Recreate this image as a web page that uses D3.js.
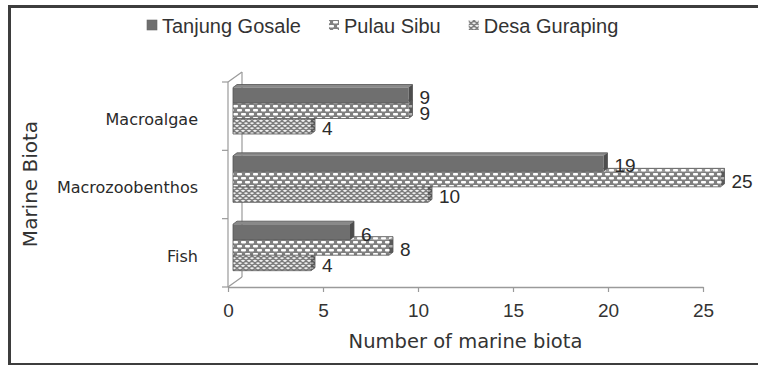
<!DOCTYPE html>
<html>
<head>
<meta charset="utf-8">
<script src="https://cdn.jsdelivr.net/npm/d3@7"></script>
<style>
  html, body { margin: 0; padding: 0; background: #fff; }
  svg { display: block; }
</style>
</head>
<body>
<svg id="chart" width="758" height="365"></svg>
<script>
// Marine biota counts per site
const categories = ["Macroalgae", "Macrozoobenthos", "Fish"];
const seriesNames = ["Tanjung Gosale", "Pulau Sibu", "Desa Guraping"];
const tanjungGosale = [9, 19, 6];
const pulauSibu = [9, 25, 8];
const desaGuraping = [4, 10, 4];
const xTicks = [0, 5, 10, 15, 20, 25];
const xTitle = "Number of marine biota";
const yTitle = "Marine Biota";

const seriesValues = [tanjungGosale, pulauSibu, desaGuraping];
const rows = [];
categories.forEach((c, ci) => {
  seriesNames.forEach((s, si) => rows.push({ category: c, series: s, si, value: seriesValues[si][ci] }));
});

const svg = d3.select("#chart");
const defs = svg.append("defs");

// Fill patterns for the two hatched series
const pSibu = defs.append("pattern").attr("id", "pat-sibu")
  .attr("patternUnits", "userSpaceOnUse").attr("width", 8).attr("height", 8);
pSibu.append("rect").attr("width", 8).attr("height", 8).attr("fill", "#808080");
[[1, 1], [5, 5], [-3, 5]].forEach(([x, y]) =>
  pSibu.append("rect").attr("x", x).attr("y", y).attr("width", 5).attr("height", 2.4)
    .attr("rx", 0.8).attr("fill", "#fff"));

const pGur = defs.append("pattern").attr("id", "pat-gur")
  .attr("patternUnits", "userSpaceOnUse").attr("width", 6).attr("height", 5);
pGur.append("rect").attr("width", 6).attr("height", 5).attr("fill", "#f2f2f2");
pGur.append("path").attr("d", "M-3,3 Q0,0 3,3 Q6,0 9,3 M0,5.5 Q3,2.5 6,5.5 M0,0.5 Q3,-2.5 6,0.5")
  .attr("fill", "none").attr("stroke", "#777").attr("stroke-width", 1.4);

const fills = {
  "Tanjung Gosale": "#6f6f6f",
  "Pulau Sibu": "url(#pat-sibu)",
  "Desa Guraping": "url(#pat-gur)"
};

// Frame
const frame = svg.append("g").attr("stroke", "#3d3d3d").attr("fill", "none");
frame.append("line").attr("x1", 8).attr("x2", 758).attr("y1", 6.5).attr("y2", 6.5).attr("stroke-width", 3);
frame.append("line").attr("x1", 9.5).attr("x2", 9.5).attr("y1", 5).attr("y2", 365).attr("stroke-width", 3);
frame.append("line").attr("x1", 8).attr("x2", 758).attr("y1", 364).attr("y2", 364).attr("stroke-width", 2);

// Scales: front axis plane and the bar plane (set slightly back in depth)
const xAxisScale = d3.scaleLinear().domain([0, 25]).range([228, 703]);
const xBar = d3.scaleLinear().domain([0, 25]).range([233, 720.5]);
const yBand = d3.scaleBand().domain(categories).range([82, 287]).paddingInner(0).paddingOuter(0);
const ySeries = d3.scaleBand().domain(seriesNames).range([5.5, 5.5 + 3 * 15.5]);
const depthX = 4, depthY = 3;
const wallX = 14, wallY = 10;

// Walls / depth lines
const axisColor = "#9a9a9a";
const wall = svg.append("g").attr("stroke", axisColor).attr("fill", "none").attr("stroke-width", 1.2);
const yTop = yBand.range()[0], yBot = yBand.range()[1], x0 = xAxisScale(0);
wall.append("line").attr("x1", x0 + wallX).attr("x2", x0 + wallX).attr("y1", yTop - wallY).attr("y2", yBot - wallY);
wall.append("line").attr("x1", x0).attr("x2", x0 + wallX).attr("y1", yTop).attr("y2", yTop - wallY);
wall.append("line").attr("x1", x0).attr("x2", x0 + wallX).attr("y1", yBot).attr("y2", yBot - wallY);
wall.append("line").attr("x1", x0).attr("x2", x0).attr("y1", yTop).attr("y2", yBot);
// Category boundary ticks
const boundaries = categories.map(c => yBand(c)).concat([yBot]);
wall.selectAll("line.tick").data(boundaries).join("line").attr("class", "tick")
  .attr("x1", x0 - 6).attr("x2", x0).attr("y1", d => d).attr("y2", d => d);

// Bars as oblique boxes
const barsG = svg.append("g");
const drawOrder = rows.slice().sort((a, b) => (categories.indexOf(a.category) - categories.indexOf(b.category)) || (b.si - a.si));
drawOrder.forEach(d => {
  const y = yBand(d.category) + ySeries(d.series);
  const h = ySeries.bandwidth();
  const xa = xBar(0), xb = xBar(d.value);
  const g = barsG.append("g");
  const fill = fills[d.series];
  const front = `M${xa},${y}H${xb}V${y + h}H${xa}Z`;
  const top = `M${xa},${y}L${xa + depthX},${y - depthY}H${xb + depthX}L${xb},${y}Z`;
  const side = `M${xb},${y}L${xb + depthX},${y - depthY}V${y + h - depthY}L${xb},${y + h}Z`;
  g.append("path").attr("d", top).attr("fill", fill);
  g.append("path").attr("d", top).attr("fill", "#fff").attr("opacity", 0.18);
  g.append("path").attr("d", side).attr("fill", fill);
  g.append("path").attr("d", side).attr("fill", "#000").attr("opacity", 0.3);
  g.append("path").attr("d", front).attr("fill", fill);
  g.append("path").attr("d", `M${xa},${y}L${xa + depthX},${y - depthY}H${xb + depthX}V${y + h - depthY}L${xb},${y + h}H${xa}Z`)
    .attr("fill", "none").attr("stroke", "#555").attr("stroke-width", 0.8).attr("stroke-linejoin", "round");
});

// Value labels
svg.append("g").selectAll("text").data(rows).join("text")
  .attr("x", d => xBar(d.value) + depthX + 7)
  .attr("y", d => yBand(d.category) + ySeries(d.series) + ySeries.bandwidth() / 2 + 2)
  .attr("dy", "0.36em")
  .attr("font-family", "'Liberation Sans', Arial, sans-serif")
  .attr("font-size", 19).attr("fill", "#2b2b2b")
  .text(d => d.value);

// X axis
const xAxis = d3.axisBottom(xAxisScale).tickValues(xTicks).tickSize(5).tickSizeOuter(0).tickPadding(12);
const xg = svg.append("g").attr("transform", `translate(0,${yBot})`).call(xAxis);
xg.select(".domain").attr("stroke", axisColor).attr("stroke-width", 1.5);
xg.selectAll(".tick line").attr("stroke", axisColor).attr("stroke-width", 1.2);
xg.selectAll(".tick text").attr("font-family", "'Liberation Sans', Arial, sans-serif")
  .attr("font-size", 19).attr("fill", "#333");

// Category labels
svg.append("g").selectAll("text").data(categories).join("text")
  .attr("x", 198)
  .attr("y", d => yBand(d) + yBand.bandwidth() / 2 + 3)
  .attr("dy", "0.36em")
  .attr("text-anchor", "end")
  .attr("font-family", "'DejaVu Sans', Verdana, sans-serif")
  .attr("font-size", 16).attr("fill", "#2a2a2a")
  .text(d => d);

// Axis titles
svg.append("text").attr("x", (xAxisScale.range()[0] + xAxisScale.range()[1]) / 2).attr("y", 348)
  .attr("text-anchor", "middle")
  .attr("font-family", "'DejaVu Sans', Verdana, sans-serif")
  .attr("font-size", 19.5).attr("fill", "#333").text(xTitle);
svg.append("text").attr("transform", "translate(37,184) rotate(-90)")
  .attr("text-anchor", "middle")
  .attr("font-family", "'DejaVu Sans', Verdana, sans-serif")
  .attr("font-size", 20).attr("fill", "#333").text(yTitle);

// Legend
const legend = svg.append("g");
let lx = 147;
seriesNames.forEach(s => {
  const item = legend.append("g");
  item.append("rect").attr("x", lx).attr("y", 20).attr("width", 10).attr("height", 10)
    .attr("fill", fills[s]).attr("stroke", s === "Tanjung Gosale" ? "#666" : "none").attr("stroke-width", 0.6);
  const t = item.append("text").attr("x", lx + 15).attr("y", 33)
    .attr("font-family", "'Liberation Sans', Arial, sans-serif")
    .attr("font-size", 20).attr("fill", "#333").text(s);
  lx += 15 + t.node().getComputedTextLength() + 28;
});
</script>
</body>
</html>
